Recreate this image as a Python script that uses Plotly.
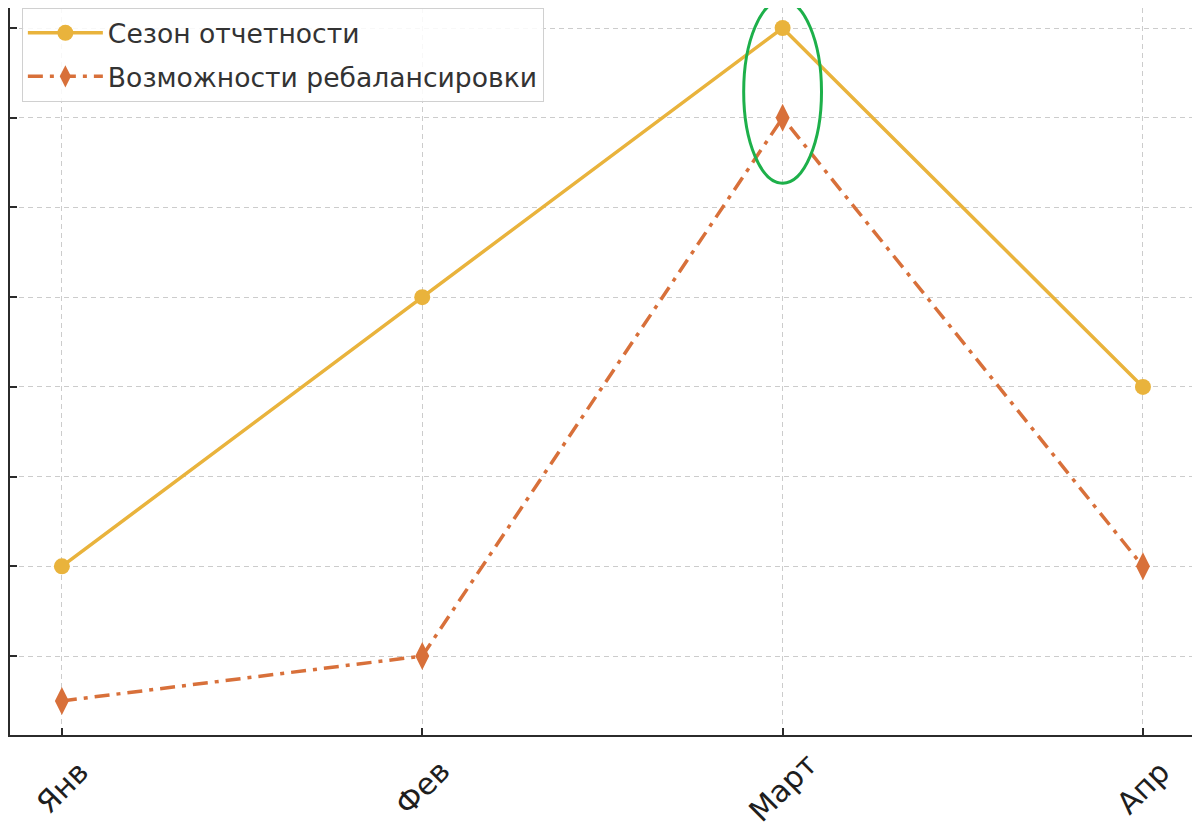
import plotly.graph_objects as go

months = ["Янв", "Фев", "Март", "Апр"]
season = [2, 5, 8, 4]
rebalance = [0.5, 1, 7, 2]
y_ticks = [1, 2, 3, 4, 5, 6, 7, 8]

YELLOW = "#E9B33C"
ORANGE = "#D8703A"
FONT = "DejaVu Sans"

x = list(range(len(months)))

fig = go.Figure()
fig.add_trace(go.Scatter(
    x=x, y=season, name="Сезон отчетности", mode="lines+markers",
    legendgroup="a",
    line=dict(color=YELLOW, width=3.5),
    marker=dict(symbol="circle", size=16, color=YELLOW),
))
fig.add_trace(go.Scatter(
    x=x, y=rebalance, name="Возможности ребалансировки", mode="lines+markers",
    legendgroup="b",
    line=dict(color=ORANGE, width=3.5, dash="15px,7px,4px,7px"),
    marker=dict(symbol="diamond-tall", size=20, color=ORANGE),
))

# tick labels as centred rotated annotations
for i, m in enumerate(months):
    fig.add_annotation(
        x=i, y=0, xref="x", yref="paper", text=m, showarrow=False,
        textangle=-45, yshift=-52, xanchor="center", yanchor="middle",
        font=dict(family=FONT, size=30, color="#1E1E1E"),
    )

# green highlight ellipse around the March peak
peak = months.index("Март")
fig.add_shape(
    type="circle", xref="x", yref="y",
    x0=peak - 0.108, x1=peak + 0.108,
    y0=rebalance[peak] - 0.73, y1=season[peak] + 0.31,
    line=dict(color="#1DB04A", width=3),
)

fig.update_layout(
    width=1192, height=819,
    margin=dict(l=2, r=3, t=0, b=92),
    paper_bgcolor="white", plot_bgcolor="white",
    showlegend=True,
    legend=dict(
        x=0.01, y=1.0, xanchor="left", yanchor="top",
        bgcolor="rgba(255,255,255,0.85)", bordercolor="#D0D0D0", borderwidth=1,
        font=dict(family=FONT, size=26.6, color="#333333"),
        tracegroupgap=6, itemwidth=75,
    ),
    font=dict(family=FONT),
)
fig.update_xaxes(
    range=[-0.144, 3.15], tickvals=x, ticktext=["" for _ in months],
    showline=True, linecolor="#2B2B2B", linewidth=2, mirror=False,
    ticks="inside", ticklen=7, tickwidth=2, tickcolor="#2B2B2B",
    showgrid=True, gridcolor="#CCCCCC", griddash="5px,4px", gridwidth=1,
    zeroline=False,
)
fig.update_yaxes(
    range=[0.12, 8.223], tickvals=y_ticks, showticklabels=False,
    showline=True, linecolor="#2B2B2B", linewidth=2, mirror=False,
    ticks="inside", ticklen=7, tickwidth=2, tickcolor="#2B2B2B",
    showgrid=True, gridcolor="#CCCCCC", griddash="5px,4px", gridwidth=1,
    zeroline=False,
)

fig.write_html("out.html")
